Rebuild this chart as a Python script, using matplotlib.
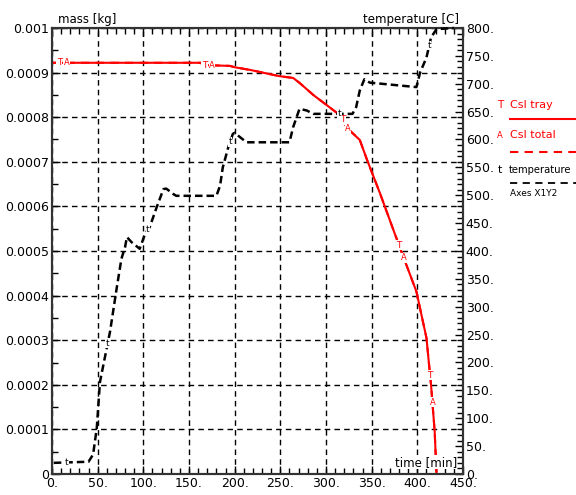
#!/usr/bin/env python3

import numpy as np
import matplotlib
matplotlib.use("Agg")
import matplotlib.pyplot as plt
from matplotlib.lines import Line2D
from matplotlib.ticker import MultipleLocator, FixedLocator
from matplotlib.transforms import ScaledTranslation


# CsI mass in the tray vs time (tray and total coincide)
MASS_TIME = [0, 163, 165, 195, 200, 217, 249, 264, 271, 286, 315, 323, 337,
             345, 359, 381, 399, 410, 415, 419, 421]
MASS_KG = [0.000922, 0.000922, 0.000917, 0.000915, 0.000912, 0.000906,
           0.000892, 0.000888, 0.000877, 0.000850, 0.000805, 0.000776,
           0.000749, 0.000704, 0.000630, 0.000507, 0.000409, 0.000305,
           0.000200, 0.000095, 0.0]

# furnace temperature vs time
TEMP_TIME = [2, 40, 45, 49, 52.5, 63.5, 70.8, 76, 80, 82, 87, 96, 102, 107,
             114.5, 122, 125, 133, 136, 180, 184, 187, 193, 198, 200, 206,
             213, 260, 264, 271, 279, 286, 329, 333, 337, 342, 348, 399, 403,
             410, 415, 421, 440]
TEMP_C = [20, 22, 35, 82, 165, 255, 333, 386, 407, 425, 416, 404, 431, 443,
          478, 511, 512, 502, 499, 499, 517, 550, 586, 610, 612, 604, 595,
          595, 622, 655, 652, 646, 646, 658, 688, 708, 702, 694, 720, 747,
          783, 798, 800]

# where the curve letters sit along each line
TRAY_MARKS = [8, 167, 318, 380, 414]
TOTAL_MARKS = [16, 175, 324, 385, 416.5]
TEMP_MARKS = [16, 61, 105, 195, 315, 413]

X_TICKS = list(range(0, 451, 50))
MASS_TICKS = [i * 0.0001 for i in range(11)]
MASS_LABELS = ["0", "0.0001", "0.0002", "0.0003", "0.0004", "0.0005",
               "0.0006", "0.0007", "0.0008", "0.0009", "0.001"]
TEMP_TICKS = list(range(0, 801, 50))

RED = "#ff0000"
FS = 9


def main():
    fig = plt.figure(figsize=(5.76, 4.95), dpi=100)
    ax = fig.add_axes([52 / 576, 1 - 474 / 495, 411 / 576, 446 / 495])
    ax2 = ax.twinx()

    ax.set_xlim(0, 450)
    ax.set_ylim(0, 0.001)
    ax2.set_ylim(0, 800)

    ax.grid(True, which="major", color="black", linestyle=(0, (4, 3)), linewidth=1.0)
    ax.set_axisbelow(True)

    # mass curves
    ax.plot(MASS_TIME, MASS_KG, color=RED, linestyle=(0, (4, 3)), linewidth=1.5, zorder=3)
    ax.plot(MASS_TIME, MASS_KG, color=RED, linewidth=1.5, zorder=3)

    box = dict(facecolor="white", edgecolor="none", pad=0.3)
    for xm in TRAY_MARKS:
        ym = np.interp(xm, MASS_TIME, MASS_KG)
        ax.text(xm, ym, "T", color=RED, fontsize=6.5, ha="center", va="center",
                bbox=box, zorder=4)
    for xm in TOTAL_MARKS:
        ym = np.interp(xm, MASS_TIME, MASS_KG)
        ax.text(xm, ym, "A", color=RED, fontsize=6, ha="center", va="center",
                bbox=box, zorder=4)

    # temperature curve on the right axis
    ax2.plot(TEMP_TIME, TEMP_C, color="black", linestyle=(0, (3, 1.6)), linewidth=1.8,
             zorder=3, clip_on=False)
    for xm in TEMP_MARKS:
        ym = np.interp(xm, TEMP_TIME, TEMP_C)
        ax2.text(xm, ym, "t", color="black", fontsize=6.5, ha="center", va="center",
                 bbox=box, zorder=4)

    ax.xaxis.set_major_locator(FixedLocator(X_TICKS))
    ax.xaxis.set_minor_locator(MultipleLocator(10))
    ax.set_xticklabels([f"{v}." for v in X_TICKS], fontsize=FS)
    ax.yaxis.set_major_locator(FixedLocator(MASS_TICKS))
    ax.yaxis.set_minor_locator(MultipleLocator(0.00005))
    ax.set_yticklabels(MASS_LABELS, fontsize=FS)
    ax2.yaxis.set_major_locator(FixedLocator(TEMP_TICKS))
    ax2.yaxis.set_minor_locator(MultipleLocator(10))
    ax2.set_yticklabels([f"{v}." for v in TEMP_TICKS], fontsize=FS)

    # nudge the bottom labels a little right so the trailing dot sits past the tick
    shift = ScaledTranslation(4 / 100, 0, fig.dpi_scale_trans)
    for lab in ax.get_xticklabels():
        lab.set_transform(lab.get_transform() + shift)
    lift = ScaledTranslation(0, 3 / 100, fig.dpi_scale_trans)
    ax.get_yticklabels()[0].set_transform(ax.get_yticklabels()[0].get_transform() + lift)
    ax2.get_yticklabels()[0].set_transform(ax2.get_yticklabels()[0].get_transform() + lift)

    ax.tick_params(which="both", direction="in", top=True, width=1.0, pad=2)
    ax.tick_params(which="major", length=6)
    ax.tick_params(which="minor", length=4)
    ax2.tick_params(which="both", direction="in", width=1.0, pad=2)
    ax2.tick_params(which="major", length=6)
    ax2.tick_params(which="minor", length=4)

    for a in (ax, ax2):
        for s in a.spines.values():
            s.set_linewidth(1.5)
            s.set_color("#333333")

    ax.text(0.015, 1.005, "mass [kg]", transform=ax.transAxes, fontsize=8.5,
            ha="left", va="bottom")
    ax.text(0.99, 1.005, "temperature [C]", transform=ax.transAxes, fontsize=8.5,
            ha="right", va="bottom")
    ax.text(0.985, 0.012, "time [min]", transform=ax.transAxes, fontsize=8.5,
            ha="right", va="bottom", bbox=dict(facecolor="white", edgecolor="none", pad=0.5))

    # legend column to the right of the plot
    def fx(px):
        return px / 576

    def fy(py):
        return 1 - py / 495

    fig.text(fx(500), fy(105), "T", color=RED, fontsize=7.5, ha="center", va="center")
    fig.text(fx(510), fy(105), "CsI tray", color=RED, fontsize=8, ha="left", va="center")
    fig.add_artist(Line2D([fx(510), fx(576)], [fy(119), fy(119)], color=RED,
                          linewidth=1.5, transform=fig.transFigure))
    fig.text(fx(500), fy(135), "A", color=RED, fontsize=6, ha="center", va="center")
    fig.text(fx(510), fy(135), "CsI total", color=RED, fontsize=8, ha="left", va="center")
    fig.add_artist(Line2D([fx(510), fx(576)], [fy(152), fy(152)], color=RED,
                          linewidth=1.5, linestyle=(0, (4, 3)), transform=fig.transFigure))
    fig.text(fx(500), fy(170), "t", color="black", fontsize=8, ha="center", va="center")
    fig.text(fx(509), fy(170), "temperature", color="black", fontsize=7.2, ha="left", va="center")
    fig.add_artist(Line2D([fx(510), fx(576)], [fy(183), fy(183)], color="black",
                          linewidth=1.3, linestyle=(0, (4, 3)), transform=fig.transFigure))
    fig.text(fx(510), fy(193), "Axes X1Y2", color="black", fontsize=6.5, ha="left", va="center")

    fig.savefig("out.png", dpi=100)
    plt.close(fig)


if __name__ == "__main__":
    main()
